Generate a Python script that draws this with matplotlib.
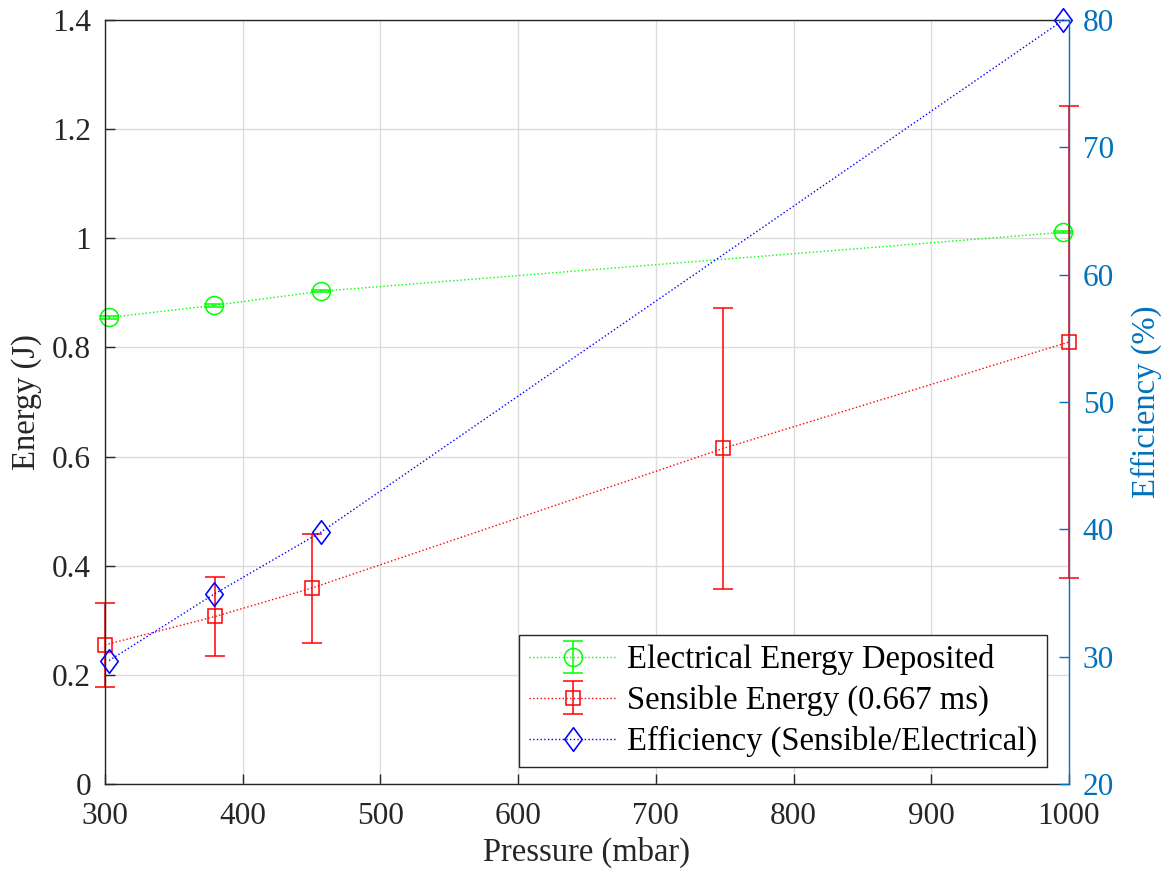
import numpy as np
import matplotlib
matplotlib.use("Agg")
import matplotlib.pyplot as plt
from matplotlib.path import Path

# Electrical energy deposited per shot (J)
p_elec = [303, 379, 457, 996]
e_elec = [0.855, 0.877, 0.903, 1.011]
e_elec_err = [0.002, 0.002, 0.002, 0.002]

# Sensible energy at 0.667 ms (J)
p_sens = [300, 380, 450, 749, 1000]
e_sens = [0.255, 0.307, 0.359, 0.615, 0.810]
e_sens_err = [0.077, 0.073, 0.100, 0.257, 0.432]

# Efficiency, sensible/electrical (%)
p_eff = [303, 379, 457, 996]
eff = [29.7, 34.9, 39.8, 80.0]

x_ticks = [300, 400, 500, 600, 700, 800, 900, 1000]
e_ticks = [0, 0.2, 0.4, 0.6, 0.8, 1.0, 1.2, 1.4]
e_ticklabels = ["0", "0.2", "0.4", "0.6", "0.8", "1", "1.2", "1.4"]
eff_ticks = [20, 30, 40, 50, 60, 70, 80]

plt.rcParams["font.family"] = ["Liberation Serif", "DejaVu Serif"]
plt.rcParams["font.size"] = 22.5

MBLUE = "#0072BD"
TXT = "#262626"

# MATLAB-style tall diamond
diamond = Path([(0, 1), (0.74, 0), (0, -1), (-0.74, 0), (0, 1)],
               [Path.MOVETO, Path.LINETO, Path.LINETO, Path.LINETO, Path.CLOSEPOLY])

fig = plt.figure(figsize=(11.68, 8.73), dpi=100)
ax = fig.add_axes([0.0899, 0.1019, 0.8253, 0.8752])
ax2 = ax.twinx()

h_elec = ax.errorbar(p_elec, e_elec, yerr=e_elec_err, color=(0, 1, 0), ls=":", lw=1.0,
                     marker="o", ms=13, mfc="none", mew=1.1, capsize=7, elinewidth=1.1,
                     capthick=1.1, label="Electrical Energy Deposited")
h_sens = ax.errorbar(p_sens, e_sens, yerr=e_sens_err, color=(1, 0, 0), ls=":", lw=1.0,
                     marker="s", ms=10, mfc="none", mew=1.1, capsize=7, elinewidth=1.1,
                     capthick=1.1, label="Sensible Energy (0.667 ms)")
h_eff, = ax2.plot(p_eff, eff, color=(0, 0, 1), ls=":", lw=1.0, marker=diamond, ms=17,
                  mfc="none", mew=1.15, clip_on=False,
                  label="Efficiency (Sensible/Electrical)")
for cont in (h_elec, h_sens):
    for art in cont.get_children():
        art.set_clip_on(False)

ax.set_xlim(300, 1000)
ax.set_ylim(0, 1.4)
ax.set_xticks(x_ticks)
ax.set_yticks(e_ticks)
ax.set_yticklabels(e_ticklabels)
ax.grid(True, color="#dcdcdc", lw=1.0)
ax.set_axisbelow(True)
ax.tick_params(axis="both", direction="in", length=7, width=1.0, colors=TXT)
ax.tick_params(axis="x", pad=13)
ax.tick_params(axis="y", pad=10)
ax.set_xlabel("Pressure (mbar)", color=TXT, fontsize=23.5, labelpad=4)
ax.set_ylabel("Energy (J)", color=TXT, fontsize=23.5, labelpad=7)
for s in ["left", "top", "bottom"]:
    ax.spines[s].set_color(TXT)
    ax.spines[s].set_linewidth(1.0)
ax.spines["right"].set_visible(False)

ax2.set_ylim(20, 80)
ax2.set_yticks(eff_ticks)
ax2.tick_params(axis="y", direction="in", length=7, width=1.0, colors=MBLUE, pad=10)
ax2.set_ylabel("Efficiency (%)", color=MBLUE, fontsize=23.5, labelpad=12)
ax2.spines["right"].set_color(MBLUE)
ax2.spines["right"].set_linewidth(1.0)
for s in ["left", "top", "bottom"]:
    ax2.spines[s].set_visible(False)

leg = ax2.legend([h_elec, h_sens, h_eff],
                 [h_elec.get_label(), h_sens.get_label(), h_eff.get_label()],
                 loc="lower right", bbox_to_anchor=(0.977, 0.022), fontsize=23.5,
                 fancybox=False, framealpha=1, edgecolor=TXT, markerscale=1.0,
                 handlelength=2.7, handletextpad=0.3, borderpad=0.3, labelspacing=0.3,
                 borderaxespad=0)
leg.get_frame().set_linewidth(1.0)

fig.savefig("out.png", dpi=100)
